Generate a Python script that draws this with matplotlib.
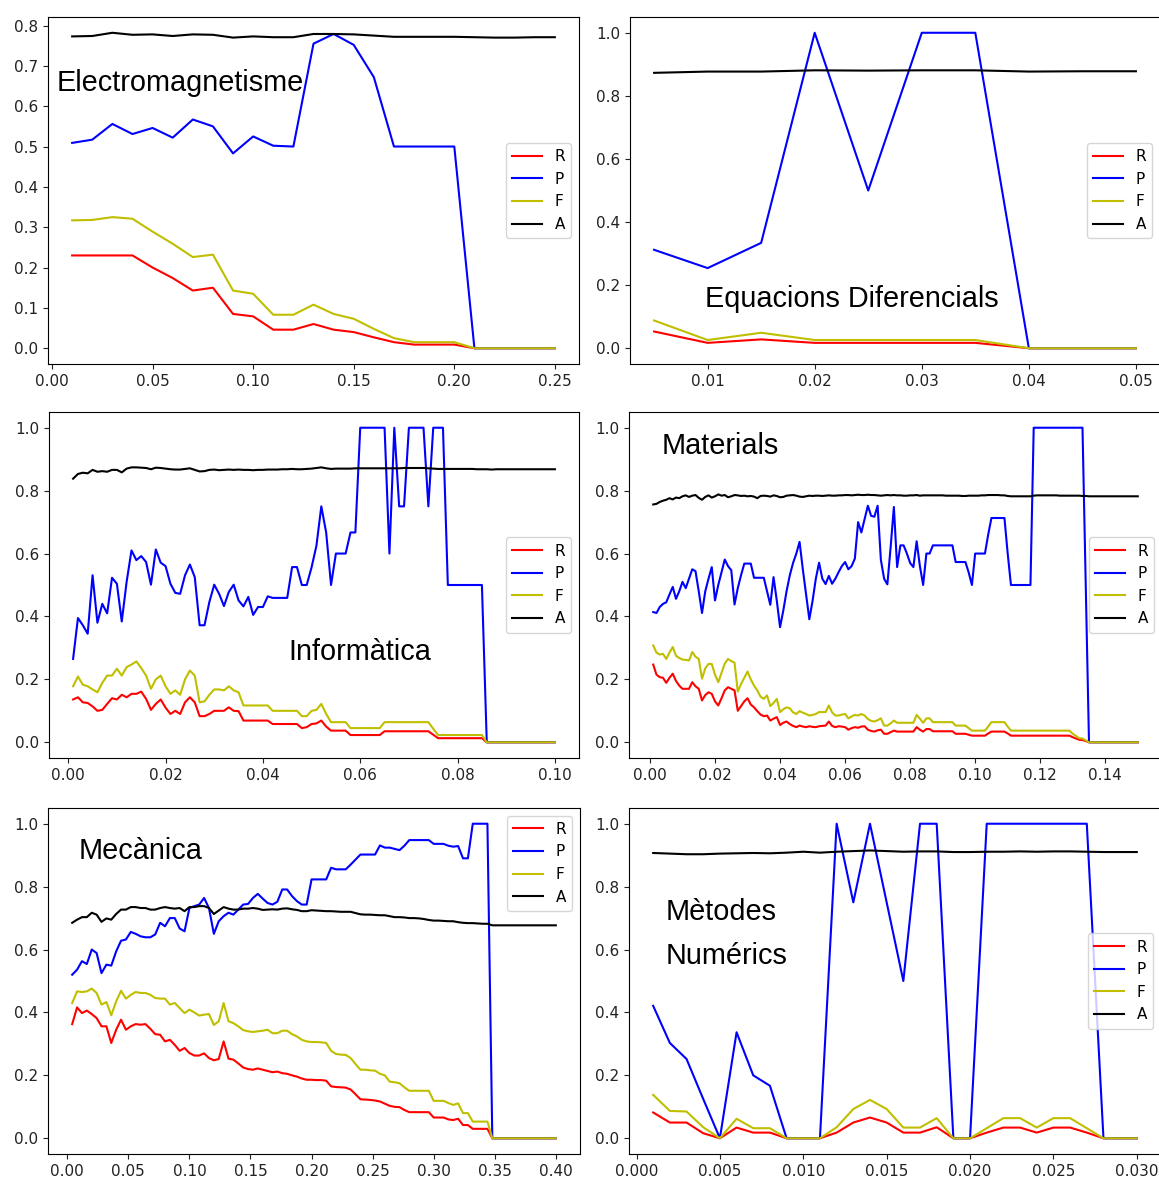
import numpy as np
import matplotlib
matplotlib.use("Agg")
import matplotlib.pyplot as plt

# thresholds (x) for each subject
x_em = np.arange(1, 26) / 100
x_ed = np.arange(1, 11) * 0.005
x_inf = np.arange(1, 101) / 1000
x_mat = np.arange(1, 151) / 1000
x_mec = np.arange(1, 101) * 0.004
x_mn = np.arange(1, 31) / 1000

# Electromagnetisme
R_em = [0.23, 0.23, 0.23, 0.23, 0.2, 0.174, 0.143, 0.15, 0.085, 0.079,
        0.046, 0.046, 0.06, 0.046, 0.04, 0.027, 0.015, 0.009, 0.009, 0.009,
        0, 0, 0, 0, 0]
P_em = [0.509, 0.517, 0.556, 0.531, 0.546, 0.522, 0.567, 0.55, 0.483, 0.525,
        0.502, 0.5, 0.755, 0.779, 0.752, 0.672, 0.5, 0.5, 0.5, 0.5,
        0, 0, 0, 0, 0]
F_em = [0.317, 0.318, 0.325, 0.321, 0.289, 0.259, 0.226, 0.232, 0.143, 0.135,
        0.083, 0.083, 0.108, 0.085, 0.073, 0.048, 0.025, 0.015, 0.015, 0.015,
        0, 0, 0, 0, 0]
A_em = [0.773, 0.774, 0.782, 0.777, 0.778, 0.774, 0.778, 0.777, 0.770, 0.773,
        0.771, 0.771, 0.779, 0.779, 0.778, 0.775, 0.772, 0.772, 0.772, 0.772,
        0.771, 0.770, 0.770, 0.771, 0.771]

# Equacions Diferencials
R_ed = [0.053, 0.017, 0.028, 0.017, 0.017, 0.017, 0.017, 0, 0, 0]
P_ed = [0.312, 0.254, 0.334, 1.0, 0.5, 1.0, 1.0, 0, 0, 0]
F_ed = [0.088, 0.026, 0.049, 0.026, 0.026, 0.026, 0.026, 0, 0, 0]
A_ed = [0.873, 0.877, 0.877, 0.881, 0.880, 0.881, 0.881, 0.877, 0.878, 0.878]

# Informatica
R_inf = [0.136, 0.143, 0.127, 0.125, 0.114, 0.1, 0.103, 0.122, 0.14, 0.136,
         0.151, 0.143, 0.154, 0.154, 0.161, 0.138, 0.103, 0.122, 0.136, 0.11,
         0.09, 0.1, 0.09, 0.127, 0.143, 0.127, 0.083, 0.083, 0.09, 0.1,
         0.1, 0.1, 0.111, 0.1, 0.099, 0.069, 0.069, 0.069, 0.069, 0.069,
         0.069, 0.058, 0.058, 0.058, 0.058, 0.058, 0.058, 0.045, 0.048, 0.058,
         0.06, 0.069, 0.05, 0.037, 0.037, 0.037, 0.037, 0.023, 0.023, 0.023,
         0.023, 0.023, 0.023, 0.023, 0.035, 0.035, 0.035, 0.035, 0.035, 0.035,
         0.035, 0.035, 0.035, 0.035, 0.024, 0.013, 0.013, 0.013, 0.013, 0.013,
         0.013, 0.013, 0.013, 0.013, 0.013, 0, 0, 0, 0, 0,
         0, 0, 0, 0, 0, 0, 0, 0, 0, 0]
P_inf = [0.265, 0.395, 0.372, 0.345, 0.531, 0.38, 0.44, 0.41, 0.523, 0.504,
         0.384, 0.51, 0.61, 0.579, 0.592, 0.573, 0.501, 0.613, 0.571, 0.56,
         0.504, 0.475, 0.472, 0.531, 0.565, 0.525, 0.372, 0.372, 0.446, 0.501,
         0.472, 0.433, 0.478, 0.501, 0.451, 0.432, 0.462, 0.405, 0.43, 0.43,
         0.464, 0.459, 0.459, 0.459, 0.459, 0.557, 0.557, 0.5, 0.5, 0.556,
         0.625, 0.75, 0.667, 0.5, 0.6, 0.6, 0.6, 0.667, 0.667, 1.0,
         1.0, 1.0, 1.0, 1.0, 1.0, 0.6, 1.0, 0.75, 0.75, 1.0,
         1.0, 1.0, 1.0, 0.75, 1.0, 1.0, 1.0, 0.5, 0.5, 0.5,
         0.5, 0.5, 0.5, 0.5, 0.5, 0, 0, 0, 0, 0,
         0, 0, 0, 0, 0, 0, 0, 0, 0, 0]
F_inf = [0.178, 0.209, 0.183, 0.178, 0.168, 0.159, 0.189, 0.212, 0.212, 0.234,
         0.212, 0.239, 0.247, 0.257, 0.236, 0.212, 0.17, 0.2, 0.212, 0.178,
         0.154, 0.165, 0.151, 0.2, 0.228, 0.212, 0.127, 0.13, 0.151, 0.168,
         0.168, 0.165, 0.178, 0.165, 0.159, 0.117, 0.117, 0.117, 0.117, 0.117,
         0.117, 0.1, 0.1, 0.1, 0.1, 0.1, 0.1, 0.083, 0.083, 0.1,
         0.103, 0.122, 0.09, 0.064, 0.064, 0.064, 0.064, 0.045, 0.045, 0.045,
         0.045, 0.045, 0.045, 0.045, 0.064, 0.064, 0.064, 0.064, 0.064, 0.064,
         0.064, 0.064, 0.064, 0.064, 0.043, 0.023, 0.023, 0.023, 0.023, 0.023,
         0.023, 0.023, 0.023, 0.023, 0.023, 0, 0, 0, 0, 0,
         0, 0, 0, 0, 0, 0, 0, 0, 0, 0]
A_inf = [0.838, 0.853, 0.857, 0.855, 0.866, 0.86, 0.862, 0.86, 0.866, 0.866,
         0.858, 0.87, 0.874, 0.874, 0.873, 0.872, 0.868, 0.873, 0.872, 0.87,
         0.868, 0.867, 0.867, 0.869, 0.871, 0.866, 0.861, 0.862, 0.866, 0.867,
         0.865, 0.866, 0.867, 0.866, 0.867, 0.866, 0.866, 0.865, 0.866, 0.866,
         0.867, 0.867, 0.867, 0.868, 0.868, 0.869, 0.868, 0.868, 0.869, 0.87,
         0.872, 0.874, 0.871, 0.869, 0.87, 0.87, 0.87, 0.87, 0.871, 0.871,
         0.871, 0.871, 0.871, 0.871, 0.871, 0.871, 0.871, 0.871, 0.872, 0.872,
         0.872, 0.872, 0.872, 0.871, 0.87, 0.869, 0.869, 0.869, 0.869, 0.869,
         0.869, 0.869, 0.869, 0.868, 0.868, 0.868, 0.867, 0.868, 0.868, 0.868,
         0.868, 0.868, 0.868, 0.868, 0.868, 0.868, 0.868, 0.868, 0.868, 0.868]

# Materials
R_mat = [0.247, 0.215, 0.207, 0.205, 0.189, 0.205, 0.218, 0.195, 0.18, 0.17,
         0.17, 0.17, 0.191, 0.178, 0.17, 0.133, 0.15, 0.159, 0.154, 0.13,
         0.117, 0.14, 0.165, 0.175, 0.17, 0.165, 0.1, 0.115, 0.13, 0.14,
         0.12, 0.111, 0.099, 0.088, 0.083, 0.085, 0.069, 0.075, 0.08, 0.055,
         0.062, 0.066, 0.058, 0.052, 0.048, 0.053, 0.05, 0.048, 0.051, 0.049,
         0.048, 0.051, 0.052, 0.053, 0.066, 0.052, 0.048, 0.051, 0.05, 0.048,
         0.04, 0.045, 0.048, 0.046, 0.05, 0.051, 0.04, 0.036, 0.034, 0.038,
         0.04, 0.027, 0.027, 0.032, 0.037, 0.034, 0.034, 0.034, 0.034, 0.034,
         0.034, 0.048, 0.04, 0.034, 0.042, 0.042, 0.035, 0.035, 0.035, 0.035,
         0.035, 0.035, 0.035, 0.027, 0.027, 0.027, 0.027, 0.024, 0.021, 0.021,
         0.021, 0.021, 0.021, 0.028, 0.034, 0.034, 0.034, 0.034, 0.034, 0.028,
         0.021, 0.021, 0.021, 0.021, 0.021, 0.021, 0.021, 0.021, 0.021, 0.021,
         0.021, 0.021, 0.021, 0.021, 0.021, 0.021, 0.021, 0.021, 0.021, 0.016,
         0.012, 0.008, 0.007, 0.004, 0, 0, 0, 0, 0, 0,
         0, 0, 0, 0, 0, 0, 0, 0, 0, 0]
P_mat = [0.414, 0.411, 0.43, 0.44, 0.445, 0.47, 0.494, 0.456, 0.48, 0.51,
         0.49, 0.52, 0.55, 0.544, 0.48, 0.411, 0.48, 0.52, 0.557, 0.451,
         0.50, 0.54, 0.581, 0.56, 0.547, 0.438, 0.49, 0.531, 0.568, 0.568,
         0.568, 0.523, 0.523, 0.523, 0.523, 0.48, 0.437, 0.525, 0.45, 0.366,
         0.419, 0.48, 0.531, 0.57, 0.6, 0.637, 0.55, 0.47, 0.391, 0.45,
         0.52, 0.571, 0.52, 0.503, 0.529, 0.504, 0.52, 0.541, 0.56, 0.573,
         0.55, 0.56, 0.584, 0.70, 0.667, 0.71, 0.752, 0.72, 0.717, 0.752,
         0.58, 0.52, 0.502, 0.62, 0.748, 0.557, 0.626, 0.626, 0.6, 0.57,
         0.557, 0.639, 0.56, 0.5, 0.6, 0.6, 0.626, 0.626, 0.626, 0.626,
         0.626, 0.626, 0.626, 0.573, 0.573, 0.573, 0.573, 0.54, 0.5, 0.6,
         0.6, 0.6, 0.6, 0.66, 0.713, 0.713, 0.713, 0.713, 0.713, 0.6,
         0.5, 0.5, 0.5, 0.5, 0.5, 0.5, 0.5, 1.0, 1.0, 1.0,
         1.0, 1.0, 1.0, 1.0, 1.0, 1.0, 1.0, 1.0, 1.0, 1.0,
         1.0, 1.0, 1.0, 0.5, 0, 0, 0, 0, 0, 0,
         0, 0, 0, 0, 0, 0, 0, 0, 0, 0]
F_mat = [0.308, 0.285, 0.279, 0.281, 0.265, 0.285, 0.303, 0.275, 0.268, 0.263,
         0.262, 0.26, 0.287, 0.272, 0.265, 0.202, 0.235, 0.249, 0.249, 0.215,
         0.191, 0.22, 0.25, 0.265, 0.258, 0.253, 0.161, 0.185, 0.205, 0.225,
         0.2, 0.18, 0.165, 0.145, 0.138, 0.149, 0.115, 0.125, 0.138, 0.096,
         0.105, 0.111, 0.108, 0.095, 0.09, 0.099, 0.094, 0.09, 0.085, 0.087,
         0.09, 0.096, 0.096, 0.096, 0.117, 0.095, 0.085, 0.085, 0.088, 0.09,
         0.076, 0.082, 0.087, 0.085, 0.09, 0.085, 0.074, 0.068, 0.066, 0.07,
         0.076, 0.053, 0.053, 0.06, 0.069, 0.062, 0.062, 0.062, 0.062, 0.062,
         0.062, 0.087, 0.075, 0.062, 0.076, 0.076, 0.064, 0.064, 0.064, 0.064,
         0.064, 0.064, 0.064, 0.053, 0.053, 0.053, 0.053, 0.045, 0.037, 0.037,
         0.037, 0.037, 0.037, 0.05, 0.064, 0.064, 0.064, 0.064, 0.064, 0.05,
         0.037, 0.037, 0.037, 0.037, 0.037, 0.037, 0.037, 0.037, 0.037, 0.037,
         0.037, 0.037, 0.037, 0.037, 0.037, 0.037, 0.037, 0.037, 0.037, 0.027,
         0.02, 0.013, 0.012, 0.006, 0, 0, 0, 0, 0, 0,
         0, 0, 0, 0, 0, 0, 0, 0, 0, 0]
A_mat = [0.756, 0.758, 0.764, 0.768, 0.771, 0.776, 0.772, 0.778, 0.776, 0.782,
         0.785, 0.78, 0.784, 0.786, 0.777, 0.771, 0.78, 0.785, 0.778, 0.782,
         0.788, 0.784, 0.786, 0.779, 0.782, 0.786, 0.785, 0.783, 0.784, 0.782,
         0.783, 0.781, 0.776, 0.783, 0.784, 0.783, 0.781, 0.785, 0.783, 0.779,
         0.78, 0.784, 0.785, 0.786, 0.784, 0.781, 0.78, 0.782, 0.784, 0.783,
         0.784, 0.784, 0.783, 0.784, 0.785, 0.784, 0.784, 0.785, 0.785, 0.786,
         0.786, 0.785, 0.786, 0.787, 0.786, 0.786, 0.787, 0.786, 0.786, 0.785,
         0.784, 0.785, 0.786, 0.785, 0.786, 0.785, 0.785, 0.784, 0.784, 0.785,
         0.785, 0.786, 0.784, 0.785, 0.785, 0.785, 0.785, 0.785, 0.785, 0.785,
         0.784, 0.784, 0.784, 0.784, 0.784, 0.783, 0.783, 0.784, 0.784, 0.784,
         0.784, 0.785, 0.785, 0.786, 0.786, 0.786, 0.786, 0.785, 0.785, 0.783,
         0.782, 0.782, 0.782, 0.782, 0.782, 0.782, 0.782, 0.784, 0.785, 0.785,
         0.785, 0.785, 0.785, 0.785, 0.785, 0.784, 0.784, 0.784, 0.784, 0.784,
         0.784, 0.784, 0.783, 0.783, 0.782, 0.782, 0.782, 0.782, 0.782, 0.782,
         0.782, 0.782, 0.782, 0.782, 0.782, 0.782, 0.782, 0.782, 0.782, 0.782]

# Mecanica
R_mec = [0.363, 0.416, 0.398, 0.406, 0.395, 0.382, 0.356, 0.356, 0.303, 0.345,
         0.377, 0.345, 0.356, 0.363, 0.361, 0.363, 0.348, 0.331, 0.329, 0.308,
         0.313, 0.297, 0.278, 0.287, 0.271, 0.263, 0.263, 0.27, 0.255, 0.248,
         0.252, 0.308, 0.253, 0.25, 0.238, 0.225, 0.22, 0.218, 0.222, 0.218,
         0.214, 0.21, 0.212, 0.207, 0.205, 0.2, 0.196, 0.19, 0.186, 0.186,
         0.185, 0.185, 0.183, 0.165, 0.163, 0.162, 0.161, 0.155, 0.14, 0.124,
         0.123, 0.122, 0.12, 0.117, 0.11, 0.103, 0.1, 0.099, 0.09, 0.083,
         0.083, 0.083, 0.083, 0.083, 0.066, 0.066, 0.066, 0.06, 0.058, 0.062,
         0.042, 0.042, 0.03, 0.03, 0.03, 0.03, 0, 0, 0, 0,
         0, 0, 0, 0, 0, 0, 0, 0, 0, 0]
P_mec = [0.52, 0.536, 0.563, 0.554, 0.6, 0.589, 0.525, 0.552, 0.549, 0.594,
         0.628, 0.632, 0.656, 0.65, 0.642, 0.639, 0.639, 0.648, 0.685, 0.674,
         0.7, 0.7, 0.667, 0.658, 0.732, 0.738, 0.743, 0.764, 0.732, 0.65,
         0.69, 0.706, 0.717, 0.711, 0.727, 0.743, 0.745, 0.764, 0.777, 0.762,
         0.748, 0.743, 0.752, 0.791, 0.791, 0.77, 0.754, 0.743, 0.743, 0.823,
         0.823, 0.823, 0.823, 0.86, 0.855, 0.855, 0.855, 0.87, 0.886, 0.902,
         0.902, 0.902, 0.902, 0.931, 0.924, 0.924, 0.92, 0.916, 0.93, 0.948,
         0.948, 0.948, 0.948, 0.948, 0.936, 0.936, 0.936, 0.93, 0.927, 0.929,
         0.89, 0.89, 1.0, 1.0, 1.0, 1.0, 0, 0, 0, 0,
         0, 0, 0, 0, 0, 0, 0, 0, 0, 0]
F_mec = [0.43, 0.467, 0.465, 0.467, 0.476, 0.462, 0.425, 0.433, 0.391, 0.435,
         0.469, 0.444, 0.456, 0.465, 0.462, 0.462, 0.456, 0.446, 0.444, 0.444,
         0.425, 0.43, 0.414, 0.398, 0.409, 0.4, 0.39, 0.393, 0.395, 0.36,
         0.372, 0.43, 0.372, 0.366, 0.356, 0.344, 0.34, 0.338, 0.34, 0.342,
         0.345, 0.334, 0.334, 0.342, 0.342, 0.331, 0.324, 0.313, 0.308, 0.306,
         0.306, 0.305, 0.303, 0.278, 0.268, 0.266, 0.265, 0.255, 0.236, 0.218,
         0.218, 0.216, 0.215, 0.205, 0.2, 0.18, 0.178, 0.175, 0.162, 0.151,
         0.151, 0.151, 0.151, 0.151, 0.119, 0.119, 0.119, 0.112, 0.106, 0.111,
         0.08, 0.08, 0.053, 0.053, 0.053, 0.053, 0, 0, 0, 0,
         0, 0, 0, 0, 0, 0, 0, 0, 0, 0]
A_mec = [0.685, 0.695, 0.703, 0.703, 0.717, 0.711, 0.688, 0.699, 0.695, 0.713,
         0.727, 0.727, 0.735, 0.735, 0.732, 0.732, 0.727, 0.727, 0.732, 0.735,
         0.732, 0.73, 0.732, 0.722, 0.735, 0.735, 0.738, 0.738, 0.732, 0.713,
         0.724, 0.735, 0.73, 0.727, 0.727, 0.73, 0.73, 0.732, 0.73, 0.726,
         0.727, 0.728, 0.727, 0.73, 0.731, 0.728, 0.726, 0.722, 0.722, 0.725,
         0.724, 0.723, 0.722, 0.722, 0.721, 0.72, 0.72, 0.72, 0.716, 0.712,
         0.711, 0.711, 0.71, 0.709, 0.709, 0.706, 0.703, 0.703, 0.702, 0.7,
         0.7, 0.699, 0.697, 0.694, 0.692, 0.692, 0.691, 0.69, 0.69, 0.687,
         0.685, 0.684, 0.684, 0.683, 0.682, 0.682, 0.677, 0.677, 0.677, 0.677,
         0.677, 0.677, 0.677, 0.677, 0.677, 0.677, 0.677, 0.677, 0.677, 0.677]

# Metodes Numerics
R_mn = [0.082, 0.05, 0.05, 0.016, 0, 0.034, 0.018, 0.018, 0, 0,
        0, 0.018, 0.05, 0.066, 0.05, 0.018, 0.018, 0.035, 0, 0,
        0.018, 0.034, 0.034, 0.018, 0.034, 0.034, 0.018, 0, 0, 0]
P_mn = [0.421, 0.303, 0.252, 0.125, 0, 0.337, 0.2, 0.167, 0, 0,
        0, 1.0, 0.75, 1.0, 0.75, 0.5, 1.0, 1.0, 0, 0,
        1.0, 1.0, 1.0, 1.0, 1.0, 1.0, 1.0, 0, 0, 0]
F_mn = [0.138, 0.087, 0.085, 0.035, 0, 0.062, 0.032, 0.032, 0, 0,
        0, 0.035, 0.093, 0.122, 0.093, 0.034, 0.034, 0.064, 0, 0,
        0.032, 0.064, 0.064, 0.034, 0.064, 0.064, 0.032, 0, 0, 0]
A_mn = [0.907, 0.905, 0.903, 0.903, 0.905, 0.906, 0.907, 0.906, 0.908, 0.911,
        0.908, 0.911, 0.913, 0.915, 0.913, 0.911, 0.912, 0.912, 0.91, 0.91,
        0.911, 0.911, 0.912, 0.911, 0.912, 0.912, 0.911, 0.91, 0.91, 0.91]

W, H = 1159, 1182
fig = plt.figure(figsize=(W / 100, H / 100), dpi=100)
plt.rcParams['font.size'] = 11


def place(left, top, right, bottom):
    return fig.add_axes([left / W, 1 - bottom / H, (right - left) / W, (bottom - top) / H])


panels = [
    # box (px), x, series, xticks, yticks, legend loc, label lines
    ((48, 17, 579, 364), x_em, (R_em, P_em, F_em, A_em),
     np.arange(0, 0.26, 0.05), np.arange(0, 0.81, 0.1), 'center right',
     [("Electromagnetisme", 0.017, 0.81)]),
    ((630, 17, 1160, 364), x_ed, (R_ed, P_ed, F_ed, A_ed),
     np.arange(0.01, 0.051, 0.01), np.arange(0, 1.01, 0.2), 'center right',
     [("Equacions Diferencials", 0.141, 0.187)]),
    ((49, 412, 579, 758), x_inf, (R_inf, P_inf, F_inf, A_inf),
     np.arange(0, 0.101, 0.02), np.arange(0, 1.01, 0.2), 'center right',
     [("Informàtica", 0.451, 0.306)]),
    ((629, 412, 1162, 758), x_mat, (R_mat, P_mat, F_mat, A_mat),
     np.arange(0, 0.141, 0.02), np.arange(0, 1.01, 0.2), 'center right',
     [("Materials", 0.062, 0.901)]),
    ((48, 808, 580, 1154), x_mec, (R_mec, P_mec, F_mec, A_mec),
     np.arange(0, 0.401, 0.05), np.arange(0, 1.01, 0.2), 'upper right',
     [("Mecànica", 0.058, 0.875)]),
    ((629, 808, 1161, 1154), x_mn, (R_mn, P_mn, F_mn, A_mn),
     np.arange(0, 0.0301, 0.005), np.arange(0, 1.01, 0.2), 'center right',
     [("Mètodes", 0.069, 0.70), ("Numérics", 0.069, 0.573)]),
]

names = ['R', 'P', 'F', 'A']
colors = ['r', 'b', 'y', 'k']

for box, xs, series, xt, yt, loc, labels in panels:
    ax = place(*box)
    for s, n, c in zip(series, names, colors):
        ax.plot(xs, s, color=c, label=n, lw=1.5)
    ax.set_xticks(xt)
    ax.set_yticks(yt)
    ax.tick_params(labelsize=11, colors='#222222')
    ax.legend(loc=loc, fontsize=11)
    for txt, tx, ty in labels:
        ax.text(tx, ty, txt, transform=ax.transAxes, ha='left', va='center',
                fontsize=20.8, family='Liberation Sans')

fig.savefig('out.png', dpi=100)
